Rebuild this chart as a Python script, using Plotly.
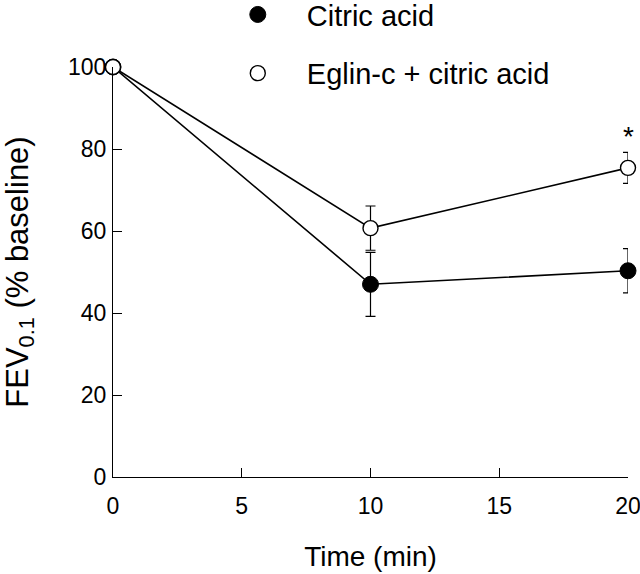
import plotly.graph_objects as go

time_min = [0, 10, 20]

citric_mean = [100, 47, 50.3]
citric_err = [0, 7.8, 5.4]

eglin_mean = [100, 60.7, 75.4]
eglin_err = [0, 5.4, 3.8]

series_names = ["Citric acid", "Eglin-c + citric acid"]
x_ticks = [0, 5, 10, 15, 20]
y_ticks = [0, 20, 40, 60, 80, 100]

FONT = "Arial, Liberation Sans, sans-serif"

fig = go.Figure()

# connecting lines first, so the markers sit on top of them
for mean in (citric_mean, eglin_mean):
    fig.add_trace(
        go.Scatter(
            x=time_min,
            y=mean,
            mode="lines",
            line={"color": "black", "width": 1.6},
            showlegend=False,
            hoverinfo="skip",
            cliponaxis=False,
        )
    )

fig.add_trace(
    go.Scatter(
        x=time_min,
        y=citric_mean,
        name=series_names[0],
        legendgroup="a",
        mode="markers",
        marker={"symbol": "circle", "size": 16, "color": "black", "line": {"color": "black", "width": 1}},
        error_y={"type": "data", "array": citric_err, "color": "black", "thickness": 1.2, "width": 5},
        cliponaxis=False,
    )
)
fig.add_trace(
    go.Scatter(
        x=time_min,
        y=eglin_mean,
        name=series_names[1],
        legendgroup="b",
        mode="markers",
        marker={"symbol": "circle", "size": 15, "color": "white", "line": {"color": "black", "width": 1.4}},
        error_y={"type": "data", "array": eglin_err, "color": "black", "thickness": 1.2, "width": 5},
        cliponaxis=False,
    )
)

# significance marker above the last Eglin-c point
fig.add_annotation(
    x=time_min[-1],
    y=eglin_mean[-1] + eglin_err[-1],
    text="*",
    showarrow=False,
    yanchor="bottom",
    yshift=-2,
    font={"size": 28, "color": "black", "family": FONT},
)

axis_style = dict(
    showline=True,
    linecolor="black",
    linewidth=1.2,
    ticks="inside",
    ticklen=9,
    tickcolor="black",
    tickwidth=1.2,
    showgrid=False,
    zeroline=False,
    ticklabeloverflow="allow",
    tickfont={"size": 23, "color": "black", "family": FONT},
)

fig.update_xaxes(
    range=[0, 20],
    tickvals=x_ticks,
    title_text="Time (min)",
    title_standoff=28,
    title_font={"size": 28, "color": "black", "family": FONT},
    ticklabelstandoff=8,
    **axis_style,
)
fig.update_yaxes(
    range=[0, 100],
    tickvals=y_ticks,
    title_text="FEV<sub>0.1</sub> (% baseline)",
    title_standoff=55,
    title_font={"size": 31, "color": "black", "family": FONT},
    ticklabelstandoff=1,
    **axis_style,
)

fig.update_layout(
    width=640,
    height=574,
    margin={"l": 113, "r": 12, "t": 67, "b": 97, "autoexpand": False},
    plot_bgcolor="white",
    paper_bgcolor="white",
    font={"family": FONT, "color": "black"},
    showlegend=True,
    legend={
        "x": 0.186,
        "y": 1.19,
        "yanchor": "top",
        "xanchor": "left",
        "font": {"size": 29, "family": FONT},
        "bgcolor": "rgba(0,0,0,0)",
        "tracegroupgap": 18,
        "traceorder": "grouped",
        "itemwidth": 88,
    },
)

# drop the page's default body margin so the figure fills the window
fig.write_html(
    "out.html",
    config={"displayModeBar": False},
    post_script="document.body.style.margin = '0';",
)
